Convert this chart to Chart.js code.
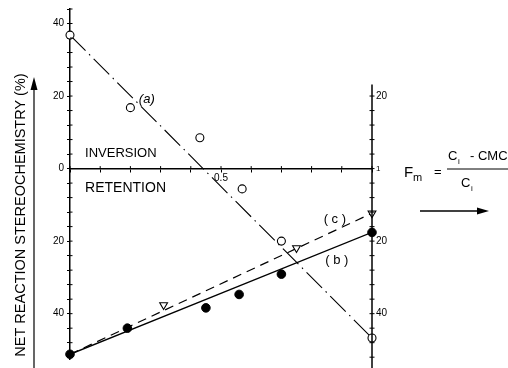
<!DOCTYPE html>
<html>
<head>
<meta charset="utf-8">
<script src="https://cdn.jsdelivr.net/npm/chart.js@4.4.0/dist/chart.umd.min.js"></script>
<style>
  html, body { margin: 0; padding: 0; background: #fff; }
</style>
</head>
<body>
<canvas id="chart" width="508" height="368"></canvas>
<script>
// F_m (x) against net reaction stereochemistry in % (inversion > 0, retention < 0)
const fmA = [0, 0.20, 0.43, 0.57, 0.70, 1.0]
const stereoA = [36.8, 16.8, 8.5, -5.6, -20.0, -46.7]
const fmB = [0, 0.19, 0.45, 0.56, 0.70, 1.0]
const stereoB = [-51.2, -44.0, -38.4, -34.7, -29.1, -17.6]
const fmC = [0.31, 0.75, 1.0]
const stereoC = [-37.6, -21.9, -12.3]

// straight lines drawn through each series
const fitFm = [0, 1]
const fitA = [36.8, -46.7]
const fitB = [-51.2, -17.6]
const fitC = [-51.2, -12.3]

// tick labels
const leftLabels = [40, 20, 0, -20, -40]
const rightLabels = [20, -20, -40]
const xLabels = [0.5]

const FONT = '"Liberation Sans", Arial, sans-serif'
Chart.defaults.font.family = FONT
Chart.defaults.color = '#000'

const pts = (xs, ys) => xs.map((x, i) => ({ x: x, y: ys[i] }))

const annotate = {
    id: 'annotate',
    afterDraw(chart) {
        const ctx = chart.ctx
        const xs = chart.scales.x, ys = chart.scales.y
        const px = v => xs.getPixelForValue(v)
        const py = v => ys.getPixelForValue(v)
        ctx.save()
        ctx.strokeStyle = '#000'
        ctx.fillStyle = '#000'

        // inner half of the ticks, so they cross the axes
        ctx.lineWidth = 1
        const lx = px(0), zy = py(0)
        ys.ticks.forEach(t => {
            ctx.beginPath()
            ctx.moveTo(lx, py(t.value))
            ctx.lineTo(lx + 2.5, py(t.value))
            ctx.stroke()
        })
        xs.ticks.forEach(t => {
            ctx.beginPath()
            ctx.moveTo(px(t.value), zy)
            ctx.lineTo(px(t.value), zy - 2.5)
            ctx.stroke()
        })

        // right hand axis, only from 20 % inversion downwards
        const rx = px(1)
        ctx.lineWidth = 1.5
        ctx.beginPath()
        ctx.moveTo(rx, py(23.2))
        ctx.lineTo(rx, 368)
        ctx.stroke()
        ctx.lineWidth = 1
        for (let v = 20; v >= -52; v -= 4) {
            ctx.beginPath()
            ctx.moveTo(rx - 2.5, py(v))
            ctx.lineTo(rx + 2.5, py(v))
            ctx.stroke()
        }
        ctx.font = '10px ' + FONT
        ctx.textAlign = 'left'
        ctx.textBaseline = 'middle'
        rightLabels.forEach(v => ctx.fillText(String(Math.abs(v)), rx + 4, py(v)))
        ctx.font = '8px ' + FONT
        ctx.fillText('1', rx + 4, py(0))

        // region labels
        ctx.font = '13px ' + FONT
        ctx.fillText('INVERSION', px(0.05), py(4.3))
        ctx.font = '14px ' + FONT
        ctx.fillText('RETENTION', px(0.05), py(-5.3))

        // series labels
        ctx.font = 'italic 13px ' + FONT
        ctx.fillText('(a)', px(0.228), py(19.2))
        ctx.font = '13px ' + FONT
        ctx.fillText('( c )', px(0.84), py(-13.9))
        ctx.fillText('( b )', px(0.845), py(-25.3))

        // y axis title with arrow
        ctx.save()
        ctx.translate(21, 215)
        ctx.rotate(-Math.PI / 2)
        ctx.font = '14.5px ' + FONT
        ctx.textAlign = 'center'
        ctx.fillText('NET REACTION STEREOCHEMISTRY (%)', 0, 0)
        ctx.restore()
        ctx.lineWidth = 1.2
        ctx.beginPath()
        ctx.moveTo(34, 368)
        ctx.lineTo(34, 86)
        ctx.stroke()
        ctx.beginPath()
        ctx.moveTo(34, 77)
        ctx.lineTo(30.5, 90)
        ctx.lineTo(37.5, 90)
        ctx.closePath()
        ctx.fill()

        // F_m formula
        ctx.textAlign = 'left'
        ctx.textBaseline = 'alphabetic'
        ctx.font = '15px ' + FONT
        ctx.fillText('F', 404, 177)
        ctx.font = '11px ' + FONT
        ctx.fillText('m', 413, 181)
        ctx.font = '13px ' + FONT
        ctx.fillText('=', 434, 176)
        ctx.fillText('C', 448, 160)
        ctx.fillText('- CMC', 470, 160)
        ctx.fillText('C', 461, 187)
        ctx.font = '8px ' + FONT
        ctx.fillText('i', 458, 164)
        ctx.fillText('i', 471, 191)
        ctx.lineWidth = 1
        ctx.beginPath()
        ctx.moveTo(447, 169)
        ctx.lineTo(508, 169)
        ctx.stroke()
        ctx.lineWidth = 1.3
        ctx.beginPath()
        ctx.moveTo(420, 211)
        ctx.lineTo(478, 211)
        ctx.stroke()
        ctx.beginPath()
        ctx.moveTo(489, 211)
        ctx.lineTo(477, 207.5)
        ctx.lineTo(477, 214.5)
        ctx.closePath()
        ctx.fill()
        ctx.restore()
    }
}

const config = {
    type: 'scatter',
    data: {
        datasets: [
            {
                label: '(a)',
                data: pts(fmA, stereoA),
                pointStyle: 'circle',
                pointRadius: 4,
                backgroundColor: '#fff',
                borderColor: '#000',
                borderWidth: 1.1,
                clip: false
            },
            {
                label: '(b)',
                data: pts(fmB, stereoB),
                pointStyle: 'circle',
                pointRadius: 4.3,
                backgroundColor: '#000',
                borderColor: '#000',
                borderWidth: 1,
                clip: false
            },
            {
                label: '(c)',
                data: pts(fmC, stereoC),
                pointStyle: 'triangle',
                rotation: 180,
                pointRadius: 4.5,
                backgroundColor: '#fff',
                borderColor: '#000',
                borderWidth: 1.1,
                clip: false
            },
            {
                label: 'line a',
                data: pts(fitFm, fitA),
                showLine: true,
                pointRadius: 0,
                borderColor: '#000',
                borderWidth: 1.1,
                borderDash: [22, 5, 1.5, 5]
            },
            {
                label: 'line b',
                data: pts(fitFm, fitB),
                showLine: true,
                pointRadius: 0,
                borderColor: '#000',
                borderWidth: 1.3
            },
            {
                label: 'line c',
                data: pts(fitFm, fitC),
                showLine: true,
                pointRadius: 0,
                borderColor: '#000',
                borderWidth: 1.2,
                borderDash: [9, 6]
            }
        ]
    },
    options: {
        responsive: false,
        animation: false,
        events: [],
        layout: {
            padding: { left: 36, right: 136, top: 5, bottom: 1 }
        },
        plugins: {
            legend: { display: false },
            tooltip: { enabled: false },
            title: { display: false }
        },
        scales: {
            x: {
                type: 'linear',
                min: 0,
                max: 1,
                position: { y: 0 },
                border: { display: true, color: '#000', width: 1.5 },
                grid: { drawOnChartArea: false, drawTicks: true, tickLength: 3, color: '#000' },
                ticks: {
                    stepSize: 0.1,
                    autoSkip: false,
                    includeBounds: false,
                    maxRotation: 0,
                    padding: 1,
                    font: { size: 10 },
                    callback: v => xLabels.some(l => Math.abs(l - v) < 1e-6) ? String(v) : ''
                }
            },
            y: {
                type: 'linear',
                min: -52.5,
                max: 44,
                position: 'left',
                afterFit: s => { s.width = 34 },
                border: { display: true, color: '#000', width: 1.5 },
                grid: { drawOnChartArea: false, drawTicks: true, tickLength: 3, color: '#000' },
                ticks: {
                    stepSize: 4,
                    autoSkip: false,
                    includeBounds: false,
                    padding: 3,
                    font: { size: 10 },
                    callback: v => leftLabels.some(l => Math.abs(l - v) < 1e-6) ? String(Math.abs(Math.round(v))) : ''
                }
            }
        }
    },
    plugins: [annotate]
}

const chart = new Chart(document.getElementById('chart'), config)
</script>
</body>
</html>
